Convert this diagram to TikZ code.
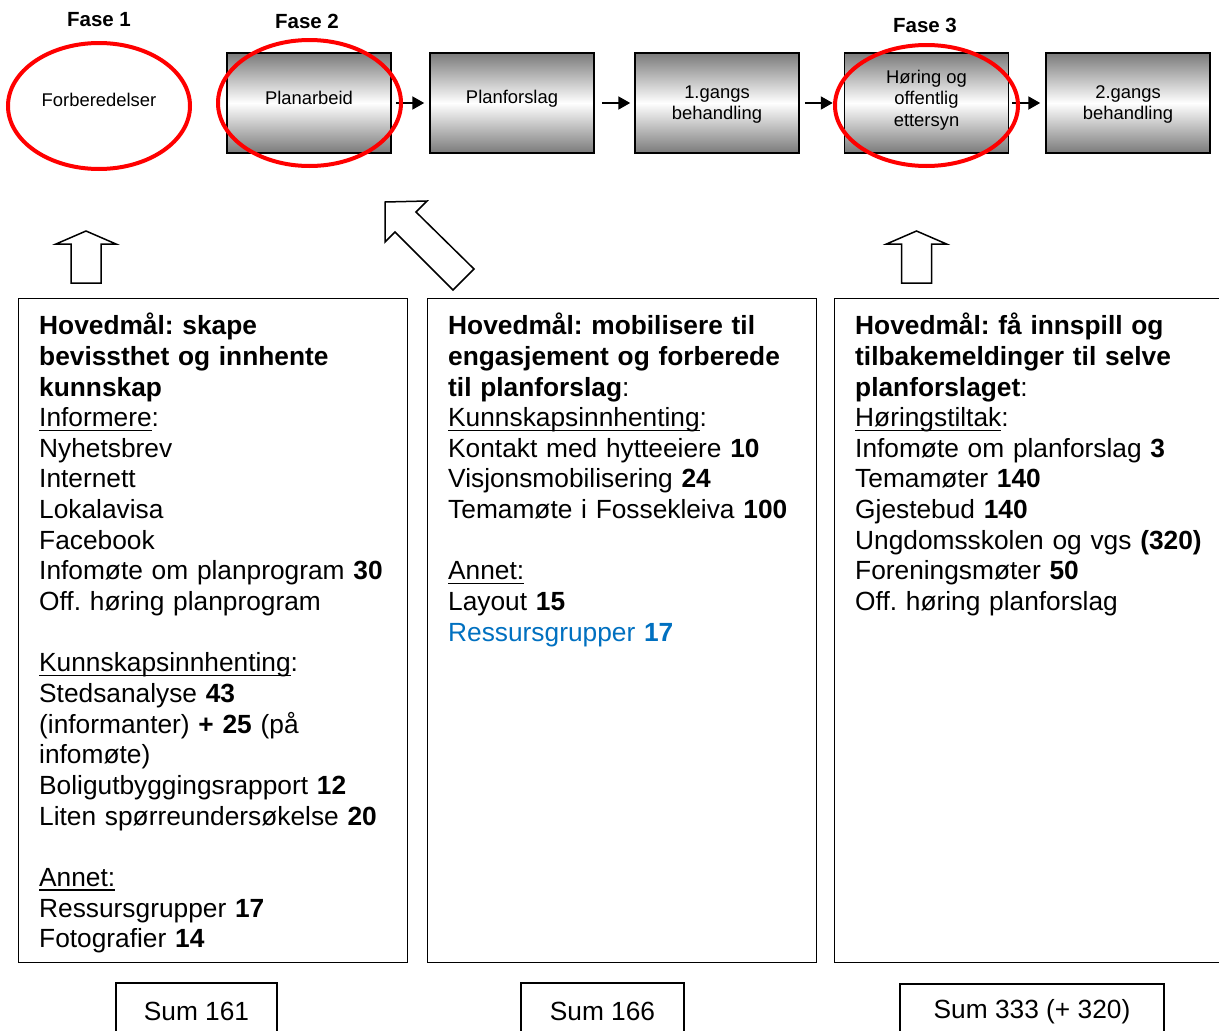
\documentclass[tikz,border=0pt]{standalone}
\usepackage{fontspec}
\setmainfont{Liberation Sans}
\usetikzlibrary{shapes.geometric, arrows.meta}
\definecolor{grpblue}{RGB}{0,112,192}
\frenchspacing
\newcommand{\bodyfont}{\fontsize{26.3}{30.65}\selectfont}
\newcommand{\stagefont}{\fontsize{18.4}{21.5}\selectfont}
\newcommand{\topstrut}{\rule{0pt}{24pt}}
\newlength{\ulwd}
\newcommand{\uln}[1]{\leavevmode\settowidth{\ulwd}{#1}\rlap{\rule[-4.5pt]{\ulwd}{1.6pt}}#1}

\begin{document}
\begin{tikzpicture}[x=1pt, y=-1pt,
    stage/.style={draw, line width=1.5pt, minimum width=164pt, minimum height=100pt, inner sep=0pt,
        top color=black!52, bottom color=black!52, middle color=white},
    ring/.style={ellipse, draw=red, line width=4pt, inner sep=0pt},
    flow/.style={-{Triangle[length=12pt,width=13pt]}, line width=2pt},
    fase/.style={font=\fontsize{20.5}{24}\selectfont\bfseries},
    panel/.style={draw, line width=1.3pt, anchor=north west, inner sep=0pt},
    paneltext/.style={anchor=north west, inner sep=0pt, text width=375pt, align=left, font=\bodyfont},
    sumbox/.style={draw, line width=1.3pt, minimum height=56pt, font=\bodyfont},
    hollow/.style={draw, line width=1.5pt, fill=white, line join=miter}]
    \useasboundingbox (0,0) rectangle (1219,1031);
    \clip (0,0) rectangle (1219,1031);

    % phases
    \node[fase] (f1) at (99,20) {Fase 1};
    \node[fase] (f2) at (307,21) {Fase 2};
    \node[fase] (f3) at (925,25) {Fase 3};

    \node[stage, label={[font=\stagefont, yshift=5pt]center:Planarbeid}] (b2) at (309,103) {};
    \node[stage, label={[font=\stagefont, yshift=4pt]center:Planforslag}] (b3) at (512,103) {};
    \node[stage, label={[font=\stagefont, align=center, yshift=-1.5pt]center:1.gangs\\behandling}] (b4) at (717,103) {};
    \node[stage, label={[font=\stagefont, align=center, yshift=3pt]center:Høring og\\offentlig\\ettersyn}] (b5) at (926.5,103) {};
    \node[stage, label={[font=\stagefont, align=center, yshift=-1.5pt]center:2.gangs\\behandling}] (b6) at (1128,103) {};

    \draw[flow, shorten <=4pt, shorten >=5pt] (b2) -- (b3);
    \draw[flow, shorten <=7pt, shorten >=4pt] (b3) -- (b4);
    \draw[flow, shorten <=5pt, shorten >=11pt] (b4) -- (b5);
    \draw[flow, shorten <=3pt, shorten >=5pt] (b5) -- (b6);

    \node[ring, minimum width=182pt, minimum height=126pt,
        label={[font=\stagefont, yshift=6pt]center:Forberedelser}] (b1) at (99,106) {};
    \node[ring, minimum width=183pt, minimum height=126pt] (r2) at (309.5,103) {};
    \node[ring, minimum width=183pt, minimum height=121pt] (r5) at (926.5,105.5) {};

    % hollow block arrows
    \foreach \ax in {86, 916.5}
        \draw[hollow] (\ax,231) -- ++(30,13) -- ++(-15,0) -- ++(0,39) -- ++(-30,0)
            -- ++(0,-39) -- ++(-15,0) -- cycle;
    \draw[hollow] (385,202) -- (427,201) -- (416,212) -- (474,269) -- (453,290)
        -- (395,232) -- (385,242) -- cycle;

    % goal panels
    \node[panel, minimum width=389pt, minimum height=664pt] (p1) at (18,298) {};
    \node[panel, minimum width=389pt, minimum height=664pt] (p2) at (427,298) {};
    \node[panel, minimum width=420pt, minimum height=664pt] (p3) at (834,298) {};

    \node[paneltext] (t1) at ([xshift=21pt, yshift=-12.5pt]p1.north west) {%
        \topstrut\textbf{Hovedmål: skape}\\
        \textbf{bevissthet og innhente}\\
        \textbf{kunnskap}\\
        \uln{Informere}:\\
        Nyhetsbrev\\
        Internett\\
        Lokalavisa\\
        Facebook\\
        Infomøte om planprogram \textbf{30}\\
        Off. høring planprogram\\[30.65pt]
        \uln{Kunnskapsinnhenting}:\\
        Stedsanalyse \textbf{43}\\
        (informanter) \textbf{+ 25} (på\\
        infomøte)\\
        Boligutbyggingsrapport \textbf{12}\\
        Liten spørreundersøkelse \textbf{20}\\[30.65pt]
        \uln{Annet:}\\
        Ressursgrupper \textbf{17}\\
        Fotografier \textbf{14}};

    \node[paneltext] (t2) at ([xshift=21pt, yshift=-12.5pt]p2.north west) {%
        \topstrut\textbf{Hovedmål: mobilisere til}\\
        \textbf{engasjement og forberede}\\
        \textbf{til planforslag}:\\
        \uln{Kunnskapsinnhenting}:\\
        Kontakt med hytteeiere \textbf{10}\\
        Visjonsmobilisering \textbf{24}\\
        Temamøte i Fossekleiva \textbf{100}\\[30.65pt]
        \uln{Annet:}\\
        Layout \textbf{15}\\
        \textcolor{grpblue}{Ressursgrupper \textbf{17}}};

    \node[paneltext] (t3) at ([xshift=21pt, yshift=-12.5pt]p3.north west) {%
        \topstrut\textbf{Hovedmål: få innspill og}\\
        \textbf{tilbakemeldinger til selve}\\
        \textbf{planforslaget}:\\
        \uln{Høringstiltak}:\\
        Infomøte om planforslag \textbf{3}\\
        Temamøter \textbf{140}\\
        Gjestebud \textbf{140}\\
        Ungdomsskolen og vgs \textbf{(320)}\\
        Foreningsmøter \textbf{50}\\
        Off. høring planforslag};

    % sums
    \node[sumbox, minimum width=161pt] (s1) at (196.5,1011) {Sum 161};
    \node[sumbox, minimum width=163pt] (s2) at (602.5,1011) {Sum 166};
    \node[sumbox, minimum width=264pt] (s3) at (1032,1012) {Sum 333 (+ 320)};
\end{tikzpicture}
\end{document}
